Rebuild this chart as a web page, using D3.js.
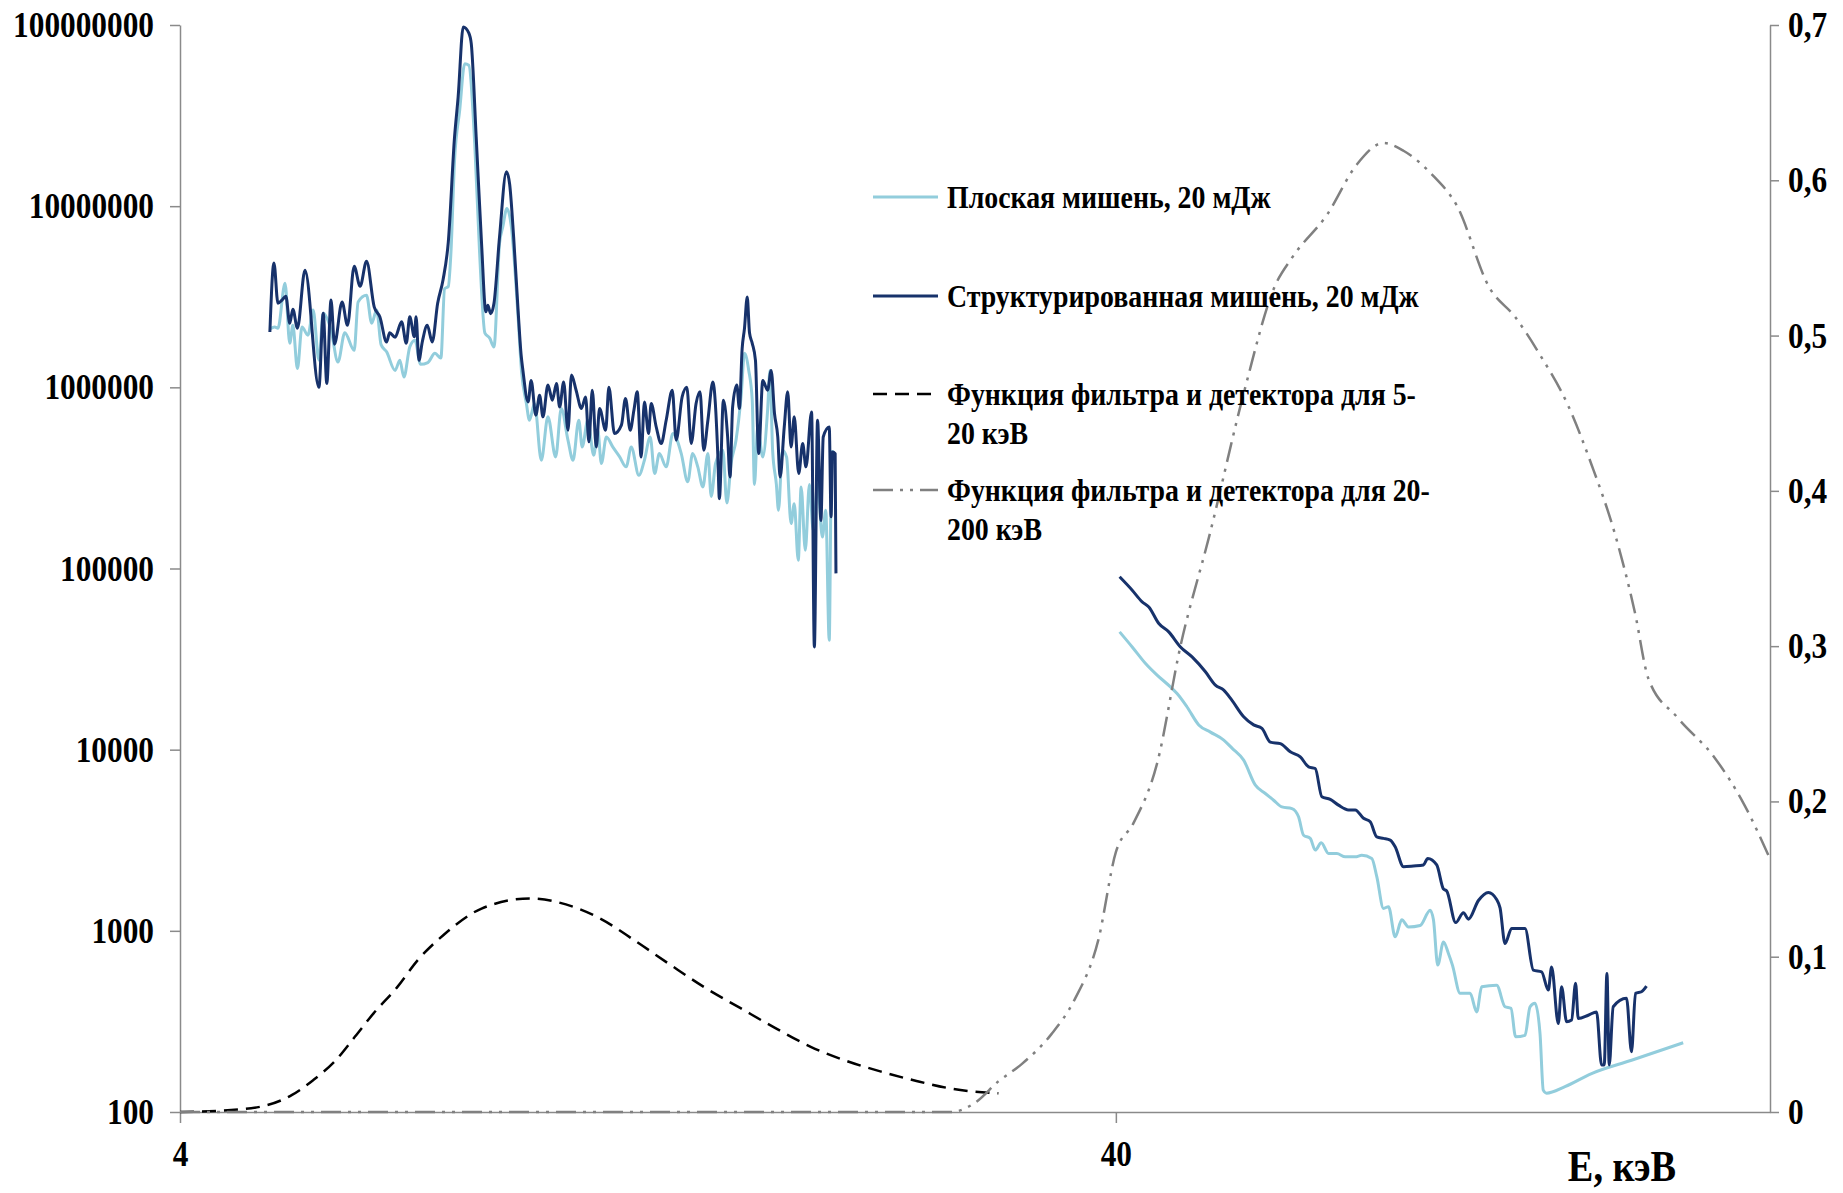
<!DOCTYPE html>
<html>
<head>
<meta charset="utf-8">
<script src="https://cdn.jsdelivr.net/npm/d3@7"></script>
<style>
  body { margin: 0; background: #fff; }
  text { font-family: "Liberation Serif", "Times New Roman", serif; font-weight: bold; fill: #000; white-space: pre; }
</style>
</head>
<body>
<svg id="chart" width="1843" height="1193"></svg>
<script>
// spectra: [energy keV, counts]
const flatLow = [[4.99,2.1e6],[5.05,2.15e6],[5.09,2.12e6],[5.18,3.76e6],[5.24,1.75e6],[5.28,2.2e6],[5.34,1.27e6],[5.40,2.15e6],[5.48,1.94e6],[5.55,2.67e6],[5.63,1.41e6],[5.69,2.56e6],[5.80,2.07e6],[5.90,1.38e6],[6.00,2.0e6],[6.14,1.6e6],[6.20,2.96e6],[6.33,3.22e6],[6.41,2.26e6],[6.49,2.67e6],[6.56,1.72e6],[6.65,1.57e6],[6.79,1.24e6],[6.87,1.41e6],[6.94,1.14e6],[7.04,1.67e6],[7.13,1.82e6],[7.23,1.34e6],[7.36,1.37e6],[7.49,1.54e6],[7.60,1.45e6],[7.67,3.5e6],[7.74,3.6e6],[7.79,5.5e6],[7.86,1.79e7],[7.96,3.38e7],[8.06,6.12e7],[8.14,6.0e7],[8.26,2.22e7],[8.36,5.5e6],[8.47,1.99e6],[8.57,1.87e6],[8.66,1.67e6],[8.78,6.24e6],[8.85,7.67e6],[8.94,9.7e6],[9.04,7.67e6],[9.19,2.45e6],[9.27,1.21e6],[9.38,8.14e5],[9.45,6.58e5],[9.57,8.14e5],[9.73,3.96e5],[9.89,6.87e5],[10.08,4.13e5],[10.22,7.64e5],[10.39,5.11e5],[10.52,3.96e5],[10.67,6.58e5],[10.76,4.69e5],[10.91,6.58e5],[11.07,4.22e5],[11.18,5.8e5],[11.28,3.8e5],[11.42,5.32e5],[11.60,4.69e5],[11.80,4.13e5],[11.99,3.64e5],[12.14,4.69e5],[12.37,3.27e5],[12.54,3.96e5],[12.72,5.32e5],[12.86,3.34e5],[13.01,4.31e5],[13.23,3.64e5],[13.45,5.56e5],[13.73,4.31e5],[13.95,3.01e5],[14.12,4.31e5],[14.30,3.64e5],[14.48,2.82e5],[14.66,4.31e5],[14.78,2.5e5],[14.94,3.8e5],[15.21,4.5e5],[15.36,2.3e5],[15.52,3.8e5],[15.71,5.11e5],[15.91,9.0e5],[16.04,1.54e6],[16.21,1.24e6],[16.35,8.49e5],[16.44,2.91e5],[16.57,6.04e5],[16.78,4.13e5],[16.98,7.48e5],[17.08,1.24e6],[17.19,4.5e5],[17.35,2.91e5],[17.44,2.1e5],[17.61,4.5e5],[17.79,4.13e5],[17.99,1.77e5],[18.13,2.28e5],[18.31,1.11e5],[18.44,2.82e5],[18.63,1.26e5],[18.82,2.91e5],[19.00,1.62e5],[19.20,2.91e5],[19.43,1.49e5],[19.59,2.1e5],[19.76,4.02e4],[19.85,2.82e5],[19.92,4.5e5]];

const flatHigh = [[40.37,4.47e4],[41.64,3.69e4],[43.03,2.99e4],[44.27,2.58e4],[45.75,2.22e4],[46.50,2.04e4],[47.66,1.72e4],[49.05,1.37e4],[50.48,1.25e4],[52.16,1.13e4],[53.23,1.02e4],[54.78,8.75e3],[56.38,6.37e3],[57.78,5.73e3],[58.97,5.26e3],[60.19,4.83e3],[61.69,4.73e3],[62.70,4.26e3],[63.48,3.37e3],[64.53,3.24e3],[65.33,2.79e3],[66.30,3.06e3],[67.50,2.67e3],[68.89,2.67e3],[70.33,2.56e3],[72.08,2.56e3],[73.26,2.61e3],[75.08,2.51e3],[76.01,1.99e3],[77.28,1.33e3],[78.23,1.36e3],[79.53,927],[80.83,1.15e3],[82.17,1.05e3],[84.57,1.07e3],[86.68,1.3e3],[87.38,1.15e3],[88.31,647],[89.56,869],[90.66,750],[91.56,647],[93.31,452],[95.63,452],[97.19,357],[98.39,491],[102.08,501],[104.21,381],[105.75,373],[106.96,260],[109.46,265],[110.82,381],[112.18,398],[113.57,272],[114.49,132],[115.42,127],[120.77,138],[128.93,163],[142.25,193],[161.54,241]];

const structLow = [[4.99,2.02e6],[5.04,4.86e6],[5.09,2.91e6],[5.14,3.03e6],[5.19,3.18e6],[5.24,2.26e6],[5.28,2.7e6],[5.34,2.12e6],[5.44,4.43e6],[5.63,1.0e6],[5.69,2.56e6],[5.74,1.05e6],[5.80,3.03e6],[5.85,1.73e6],[5.96,2.96e6],[6.04,2.2e6],[6.14,4.66e6],[6.23,3.61e6],[6.33,4.97e6],[6.45,2.78e6],[6.54,2.45e6],[6.65,1.78e6],[6.70,2.0e6],[6.79,1.89e6],[6.90,2.3e6],[6.98,1.75e6],[7.04,2.45e6],[7.12,1.9e6],[7.15,2.45e6],[7.20,1.41e6],[7.26,1.78e6],[7.35,2.2e6],[7.44,1.78e6],[7.54,2.91e6],[7.64,3.91e6],[7.74,6.34e6],[7.86,2.41e7],[7.93,4.01e7],[8.03,9.75e7],[8.14,9.04e7],[8.19,7.89e7],[8.29,2.41e7],[8.40,6.22e6],[8.49,2.61e6],[8.53,2.84e6],[8.59,2.55e6],[8.66,2.9e6],[8.78,6.76e6],[8.93,1.55e7],[9.00,1.33e7],[9.09,6.76e6],[9.19,2.66e6],[9.26,1.5e6],[9.30,1.24e6],[9.42,8.3e5],[9.49,1.09e6],[9.60,7.02e5],[9.69,9.04e5],[9.77,6.87e5],[9.89,1.03e6],[10.00,8.49e5],[10.10,1.05e6],[10.18,7.8e5],[10.28,1.07e6],[10.39,5.8e5],[10.48,1.17e6],[10.60,9.64e5],[10.74,7.64e5],[10.85,8.85e5],[10.94,5.0e5],[11.03,9.64e5],[11.14,4.69e5],[11.23,7.64e5],[11.40,5.8e5],[11.49,1.0e6],[11.65,5.56e5],[11.85,6.18e5],[11.97,8.67e5],[12.11,5.8e5],[12.22,7.48e5],[12.32,9.44e5],[12.44,4.13e5],[12.54,8.3e5],[12.67,5.56e5],[12.75,8.14e5],[12.91,6.04e5],[13.07,4.9e5],[13.23,6.58e5],[13.43,9.64e5],[13.56,5.11e5],[13.76,8.85e5],[13.92,1.0e6],[14.07,4.9e5],[14.24,8.14e5],[14.38,9.44e5],[14.51,4.5e5],[14.66,6.58e5],[14.84,1.07e6],[15.02,4.31e5],[15.08,2.43e5],[15.23,8.49e5],[15.39,5.32e5],[15.48,3.2e5],[15.58,7.8e5],[15.74,1.03e6],[15.84,7.64e5],[15.95,1.64e6],[16.04,2.11e6],[16.15,3.15e6],[16.24,2.0e6],[16.35,1.75e6],[16.48,1.41e6],[16.61,4.31e5],[16.78,1.09e6],[16.98,9.64e5],[17.13,1.24e6],[17.27,7.17e5],[17.41,5.32e5],[17.51,3.2e5],[17.69,6.04e5],[17.84,9.44e5],[17.99,4.69e5],[18.13,6.87e5],[18.33,3.34e5],[18.51,4.9e5],[18.66,3.64e5],[18.92,7.32e5],[19.05,3.69e4],[19.20,6.58e5],[19.36,1.84e5],[19.47,5.32e5],[19.76,6.04e5],[19.85,1.93e5],[19.92,4.4e5],[20.05,4.3e5],[20.09,9.4e4]];

const structHigh = [[40.37,9.0e4],[41.64,7.59e4],[42.67,6.55e4],[43.38,6.14e4],[44.46,4.97e4],[45.56,4.47e4],[46.89,3.69e4],[48.25,3.25e4],[49.86,2.69e4],[51.10,2.27e4],[52.16,2.13e4],[53.23,1.87e4],[54.78,1.52e4],[56.14,1.37e4],[57.30,1.31e4],[58.50,1.1e4],[59.95,1.08e4],[61.44,9.73e3],[62.97,9.12e3],[64.27,8.04e3],[65.33,7.87e3],[66.40,5.5e3],[67.79,5.32e3],[69.18,4.94e3],[70.90,4.65e3],[72.08,4.65e3],[73.57,4.18e3],[74.79,4.0e3],[76.01,3.3e3],[77.28,3.24e3],[78.56,3.17e3],[79.53,2.91e3],[81.17,2.26e3],[83.19,2.28e3],[85.26,2.31e3],[86.16,2.51e3],[88.09,2.31e3],[89.56,1.7e3],[90.28,1.66e3],[92.30,1.11e3],[94.07,1.26e3],[95.23,1.16e3],[97.60,1.47e3],[100.02,1.63e3],[102.08,1.49e3],[102.94,1.34e3],[104.21,851],[105.91,1.03e3],[109.46,1.03e3],[111.72,607],[114.02,594],[115.91,471],[116.86,631],[118.80,308],[119.77,491],[121.25,315],[122.75,322],[123.96,513],[124.78,328],[127.89,342],[130.52,357],[132.14,182],[133.02,182],[133.90,582],[134.66,182],[135.99,381],[140.51,424],[142.25,215],[143.65,452],[145.79,461],[147.59,495]];

// filter + detector response (right axis)
const respLowE = [4, 4.7, 5.27, 5.55, 5.87, 6.15, 6.44, 6.83, 7.18, 7.65, 8.4, 9.46, 10.54, 11.24, 12.24, 13.35, 14.56, 15.87, 17.31, 18.88, 20.59, 22.45, 24.49, 26.71, 29.96];
const respLowV = [0, 0.002, 0.011, 0.0205, 0.0334, 0.0484, 0.0635, 0.0806, 0.0978, 0.114, 0.131, 0.1375, 0.132, 0.1247, 0.1105, 0.095, 0.080, 0.067, 0.054, 0.042, 0.033, 0.026, 0.020, 0.015, 0.012];
const respHighE = [4, 26.7, 28.29, 29.96, 31.75, 34.12, 36.16, 38.30, 40.0, 41.77, 44.25, 46.89, 50.39, 54.96, 59.07, 61.68, 67.28, 72.33, 77.27, 81.17, 87.29, 92.49, 100.25, 106.83, 113.2, 121.7, 128.9, 136.6, 143.4, 148.3, 159.3, 174.6, 187.7, 200];
const respHighV = [0, 0, 0.006, 0.0197, 0.031, 0.050, 0.0727, 0.1105, 0.1673, 0.186, 0.224, 0.300, 0.372, 0.466, 0.531, 0.550, 0.578, 0.610, 0.624, 0.619, 0.603, 0.584, 0.531, 0.512, 0.489, 0.455, 0.417, 0.372, 0.322, 0.279, 0.254, 0.228, 0.198, 0.163];

const leftTicks = [1e2, 1e3, 1e4, 1e5, 1e6, 1e7, 1e8];
const rightTicks = [0, 0.1, 0.2, 0.3, 0.4, 0.5, 0.6, 0.7];
const xTicks = [4, 40];

const legendItems = [
  { lines: ["Плоская мишень, 20 мДж"], key: "flat" },
  { lines: ["Структурированная мишень, 20 мДж"], key: "struct" },
  { lines: ["Функция фильтра и детектора для 5-", "20 кэВ"], key: "low" },
  { lines: ["Функция фильтра и детектора для 20-", "200 кэВ"], key: "high" }
];

const styles = {
  flat:   { color: "#92cddc", width: 3, dash: null },
  struct: { color: "#17326b", width: 3, dash: null },
  low:    { color: "#000000", width: 2.5, dash: "14,8" },
  high:   { color: "#808080", width: 2.5, dash: "20,7,3,7,3,7" }
};

const svg = d3.select("#chart");
const axisColor = "#8a8a8a";
const squeezeK = 0.87;

const x = d3.scaleLog().domain([4, 200]).range([180, 1770]);
const yL = d3.scaleLog().domain([100, 1e8]).range([1112, 25]);
const yR = d3.scaleLinear().domain([0, 0.7]).range([1112, 25]);

function squeeze(sel) {
  sel.each(function () {
    const t = d3.select(this);
    const tx = +t.attr("x") || 0;
    t.attr("x", tx / squeezeK).attr("transform", `scale(${squeezeK},1)`);
  });
}

function styleAxis(g, size) {
  g.select(".domain").attr("stroke", axisColor).attr("stroke-width", 1.5);
  g.selectAll(".tick line").attr("stroke", axisColor).attr("stroke-width", 1.5);
  g.selectAll(".tick text").attr("font-size", size).attr("fill", "#000")
    .attr("font-family", null);
  squeeze(g.selectAll(".tick text"));
}

// axes
const gx = svg.append("g").attr("transform", "translate(0,1112)")
  .call(d3.axisBottom(x).tickValues(xTicks).tickFormat(d3.format("d")).tickSize(11).tickSizeOuter(0).tickPadding(17));
styleAxis(gx, 36);

const gl = svg.append("g").attr("transform", "translate(180,0)")
  .call(d3.axisLeft(yL).tickValues(leftTicks).tickFormat(d3.format("d")).tickSize(10).tickSizeOuter(0).tickPadding(16));
styleAxis(gl, 36);

const gr = svg.append("g").attr("transform", "translate(1770,0)")
  .call(d3.axisRight(yR).tickValues(rightTicks)
    .tickFormat(d => d === 0 ? "0" : d3.format(".1f")(d).replace(".", ","))
    .tickSize(9).tickSizeOuter(0).tickPadding(9));
styleAxis(gr, 36);

// series
const specLine = d3.line().x(d => x(d[0])).y(d => yL(d[1])).curve(d3.curveMonotoneX);
const respLine = d3.line().x(d => x(d[0])).y(d => yR(d[1])).curve(d3.curveMonotoneX);

function draw(path, st) {
  svg.append("path").attr("d", path).attr("fill", "none")
    .attr("stroke", st.color).attr("stroke-width", st.width)
    .attr("stroke-dasharray", st.dash).attr("stroke-linejoin", "round");
}

draw(specLine(flatLow), styles.flat);
draw(specLine(flatHigh), styles.flat);
draw(specLine(structLow), styles.struct);
draw(specLine(structHigh), styles.struct);
draw(respLine(d3.zip(respLowE, respLowV)), styles.low);
draw(respLine(d3.zip(respHighE, respHighV)), styles.high);

// legend
const legendY = [197, 296, 394, 490];
legendItems.forEach((item, i) => {
  const st = styles[item.key];
  svg.append("line").attr("x1", 873).attr("x2", 938)
    .attr("y1", legendY[i]).attr("y2", legendY[i])
    .attr("stroke", st.color).attr("stroke-width", st.width)
    .attr("stroke-dasharray", st.dash);
  item.lines.forEach((ln, j) => {
    svg.append("text").attr("x", 947).attr("y", legendY[i] + 11 + j * 39)
      .attr("font-size", 32).text(ln).call(squeeze);
  });
});

// x-axis title
svg.append("text").attr("x", 1622).attr("y", 1181).attr("text-anchor", "middle")
  .attr("font-size", 44).text("E, кэВ").call(squeeze);
</script>
</body>
</html>
